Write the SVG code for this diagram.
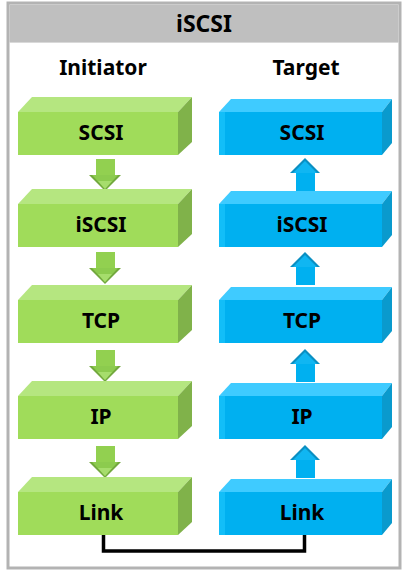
<svg xmlns="http://www.w3.org/2000/svg" width="409" height="575" viewBox="0 0 409 575">
<defs>
<style>
text{font-family:"Noto Sans","Open Sans","DejaVu Sans",sans-serif;font-weight:bold;fill:#000;text-anchor:middle}
.lbl{font-size:21px}
.g-front{fill:#A0DC5A}
.g-top{fill:#B5E680}
.g-side{fill:#80B24A}
.b-front{fill:#00B0F0}
.b-strip{fill:#12BEF8}
.b-top{fill:#3FCBFF}
.b-side{fill:#0A9ACD}
.conn{fill:none;stroke:#000;stroke-width:3.5}
</style>
<g id="gbox">
<polygon class="g-top" points="0,0 14,-15 174,-15 160,0"/>
<polygon class="g-side" points="160,0 174,-15 174,30 160,43"/>
<rect class="g-front" x="0" y="0" width="160" height="43"/>
</g>
<g id="bbox">
<polygon class="b-top" points="0,0 12,-13 173,-13 163,0"/>
<polygon class="b-side" points="163,0 173,-13 173,31 163,43"/>
<rect class="b-front" x="0" y="0" width="163" height="43"/>
<rect class="b-strip" x="0" y="0" width="6" height="43"/>
</g>
<g id="garrow">
<rect x="96" y="0" width="19" height="16" fill="#92D050"/>
<polygon points="89,16 121,16 105,32" fill="#72A83E"/>
<polygon points="92,16 118,16 105,30" fill="#8CCB4E"/>
<polygon points="98,22 112,22 105,30" fill="#A6DD6C"/>
</g>
<g id="barrow">
<polygon points="290,15 305,0 320,15" fill="#0A8FC2"/>
<polygon points="293,15 305,3 317,15" fill="#10B6F2"/>
<rect x="296" y="15" width="19" height="18" fill="#00B0F0"/>
</g>
</defs>

<g id="frame">
<rect x="8" y="3" width="392" height="565" fill="#FFFFFF" stroke="#B3B3B3" stroke-width="3"/>
<rect x="9.5" y="4.5" width="389" height="38" fill="#BFBFBF"/>
<line x1="9.5" y1="42.5" x2="398.5" y2="42.5" stroke="#D9D9D9" stroke-width="1"/>
<text x="204" y="32" style="font-size:23px">iSCSI</text>
</g>

<g id="headers">
<text x="103" y="75" class="lbl">Initiator</text>
<text x="306" y="75" class="lbl">Target</text>
</g>

<g id="connectors">
<polyline class="conn" points="103.5,533 103.5,551 304.5,551 304.5,533"/>
<use href="#garrow" transform="translate(0,159)"/>
<use href="#garrow" transform="translate(0,252)"/>
<use href="#garrow" transform="translate(0,350)"/>
<use href="#garrow" transform="translate(0,446)"/>
<use href="#barrow" transform="translate(0,158)"/>
<use href="#barrow" transform="translate(0,252)"/>
<use href="#barrow" transform="translate(0,349)"/>
<use href="#barrow" transform="translate(0,445)"/>
</g>

<g id="init-scsi"><use href="#gbox" transform="translate(18,112)"/><text x="101" y="140" class="lbl">SCSI</text></g>
<g id="init-iscsi"><use href="#gbox" transform="translate(18,204)"/><text x="101" y="232" class="lbl">iSCSI</text></g>
<g id="init-tcp"><use href="#gbox" transform="translate(18,300)"/><text x="101" y="328" class="lbl">TCP</text></g>
<g id="init-ip"><use href="#gbox" transform="translate(18,396)"/><text x="101" y="424" class="lbl">IP</text></g>
<g id="init-link"><use href="#gbox" transform="translate(18,492)"/><text x="101" y="520" class="lbl">Link</text></g>

<g id="tgt-scsi"><use href="#bbox" transform="translate(219,112)"/><text x="302" y="140" class="lbl">SCSI</text></g>
<g id="tgt-iscsi"><use href="#bbox" transform="translate(219,204)"/><text x="302" y="232" class="lbl">iSCSI</text></g>
<g id="tgt-tcp"><use href="#bbox" transform="translate(219,300)"/><text x="302" y="328" class="lbl">TCP</text></g>
<g id="tgt-ip"><use href="#bbox" transform="translate(219,396)"/><text x="302" y="424" class="lbl">IP</text></g>
<g id="tgt-link"><use href="#bbox" transform="translate(219,492)"/><text x="302" y="520" class="lbl">Link</text></g>
</svg>
